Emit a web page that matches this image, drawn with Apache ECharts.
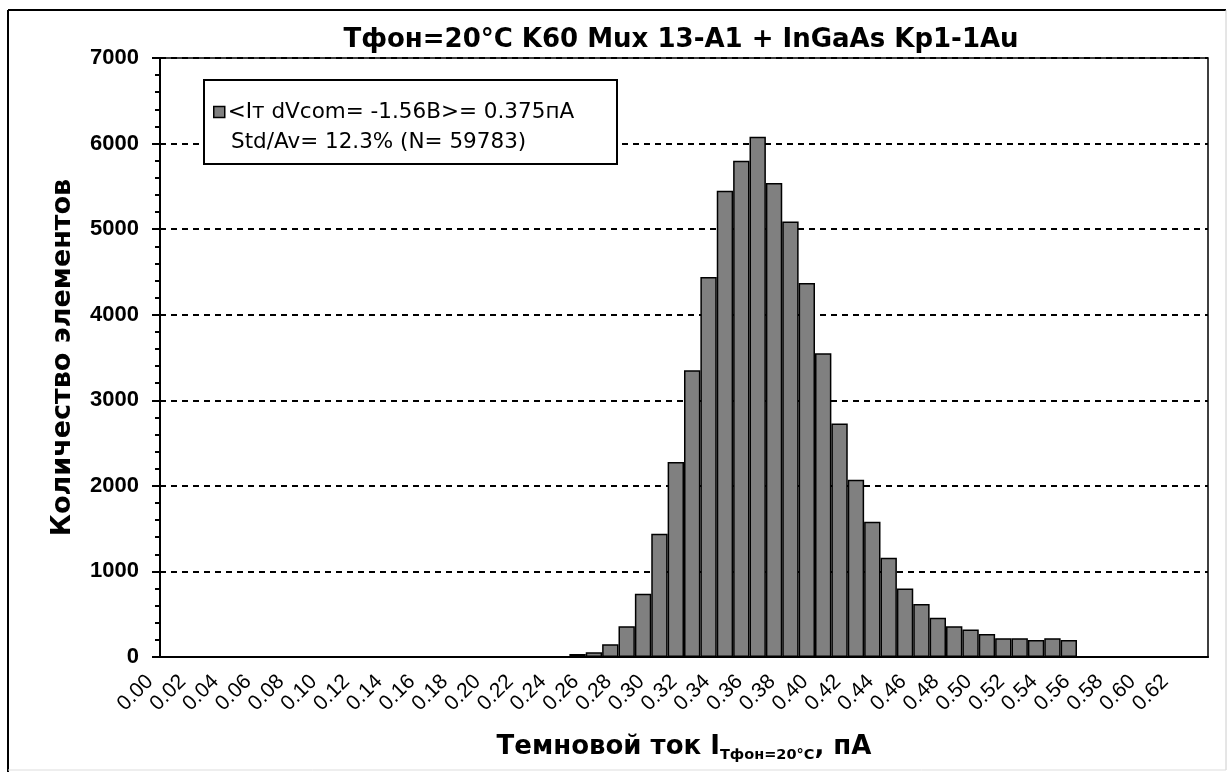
<!DOCTYPE html>
<html>
<head>
<meta charset="utf-8">
<script src="https://cdn.jsdelivr.net/npm/echarts@6/dist/echarts.min.js"></script>
<style>
  html, body { margin: 0; padding: 0; background: #fff; }
  #charts { width: 1229px; height: 774px; }
</style>
</head>
<body>
<div id="charts"></div>
<script>
// бины гистограммы, шаг 0.01 пА
var bins = [];
for (var i = 0; i < 64; i++) { bins.push((i / 100).toFixed(2)); }

// количество элементов в каждом бине
var counts = [
    0, 0, 0, 0, 0, 0, 0, 0, 0, 0,
    0, 0, 0, 0, 0, 0, 0, 0, 0, 0,
    0, 0, 0, 0, 0, 35, 55, 150, 360, 740,
    1440, 2280, 3350, 4440, 5450, 5800, 6080, 5540, 5090, 4370,
    3550, 2730, 2070, 1580, 1160, 800, 620, 460, 360, 320,
    270, 220, 220, 200, 220, 200, 0, 0, 0, 0,
    0, 0, 0, 0
];

var yTicks = [0, 1000, 2000, 3000, 4000, 5000, 6000, 7000];

var titleText = 'Тфон=20°C K60 Mux 13-A1 + InGaAs Kp1-1Au';
var legendLine1 = '<Iт dVcom= -1.56B>= 0.375пА';
var legendLine2 = 'Std/Av= 12.3% (N= 59783)';

var font = '"Liberation Sans", Arial, sans-serif';
var wide = '"DejaVu Sans", sans-serif';

var myChart = echarts.init(document.getElementById('charts'));

myChart.setOption({
    animation: false,
    backgroundColor: '#fff',
    title: {
        text: titleText,
        left: 676,
        textAlign: 'center',
        top: 22,
        textStyle: { fontFamily: wide, fontSize: 26, fontWeight: 'bold', color: '#000' }
    },
    grid: {
        left: 160, right: 21, top: 58, bottom: 117,
        show: true, borderColor: '#000', borderWidth: 1.5, backgroundColor: '#fff'
    },
    legend: {
        left: 208, top: 96, z: 8,
        itemWidth: 11, itemHeight: 11, itemGap: 4,
        icon: 'rect',
        itemStyle: { color: '#808080', borderColor: '#000', borderWidth: 1.5 },
        textStyle: { fontFamily: wide, fontSize: 21.5, color: '#000', padding: [0, 0, 0, -2] },
        data: [legendLine1]
    },
    xAxis: {
        type: 'category',
        data: bins,
        boundaryGap: true,
        name: '{a|Темновой ток I}{b|Тфон=20°C}{a|, пА}',
        nameLocation: 'middle',
        nameGap: 74,
        nameTextStyle: {
            rich: {
                a: { fontFamily: wide, fontSize: 26, fontWeight: 'bold', color: '#000', lineHeight: 32 },
                b: { fontFamily: wide, fontSize: 14.5, fontWeight: 'bold', color: '#000', lineHeight: 12, verticalAlign: 'bottom' }
            }
        },
        axisLine: { lineStyle: { color: '#000', width: 2 } },
        axisTick: { interval: 1, length: 7, lineStyle: { color: '#000', width: 2 } },
        axisLabel: {
            interval: 1,
            rotate: 45,
            margin: 3,
            padding: [0, 26, 0, 0],
            fontFamily: font, fontSize: 21, color: '#000'
        },
        splitLine: { show: false }
    },
    yAxis: {
        type: 'value',
        min: yTicks[0], max: yTicks[yTicks.length - 1], interval: 1000,
        name: 'Количество элементов',
        nameLocation: 'middle',
        nameGap: 84,
        nameTextStyle: { fontFamily: wide, fontSize: 27, fontWeight: 'bold', color: '#000' },
        axisLine: { show: true, lineStyle: { color: '#000', width: 2 } },
        axisTick: { show: true, length: 8, lineStyle: { color: '#000', width: 2 } },
        minorTick: { show: true, splitNumber: 5, length: 5, lineStyle: { color: '#000', width: 2 } },
        axisLabel: {
            margin: 21, fontFamily: font, fontSize: 22, fontWeight: 'bold', color: '#000',
            formatter: function (v) { return String(v); }
        },
        splitLine: { show: true, lineStyle: { color: '#000', width: 2, type: [6, 5] } }
    },
    graphic: [
        { type: 'line', shape: { x1: 8, y1: 10, x2: 1226, y2: 10 }, style: { stroke: '#000', lineWidth: 2 } },
        { type: 'line', shape: { x1: 8, y1: 10, x2: 8, y2: 772 }, style: { stroke: '#000', lineWidth: 2 } },
        { type: 'line', shape: { x1: 1226, y1: 10, x2: 1226, y2: 770 }, style: { stroke: '#ccc', lineWidth: 1 } },
        { type: 'line', shape: { x1: 8, y1: 770, x2: 1226, y2: 770 }, style: { stroke: '#ddd', lineWidth: 1 } },
        { type: 'rect', z: 5, shape: { x: 204, y: 80, width: 413, height: 84 }, style: { fill: '#fff', stroke: '#000', lineWidth: 2 } },
        { type: 'text', z: 10, left: 231, top: 131, style: { text: legendLine2, font: '21.5px ' + wide, fill: '#000' } }
    ],
    series: [{
        name: legendLine1,
        type: 'bar',
        data: counts,
        barCategoryGap: 0,
        itemStyle: { color: '#808080', borderColor: '#000', borderWidth: 1.5 }
    }]
});
</script>
</body>
</html>
